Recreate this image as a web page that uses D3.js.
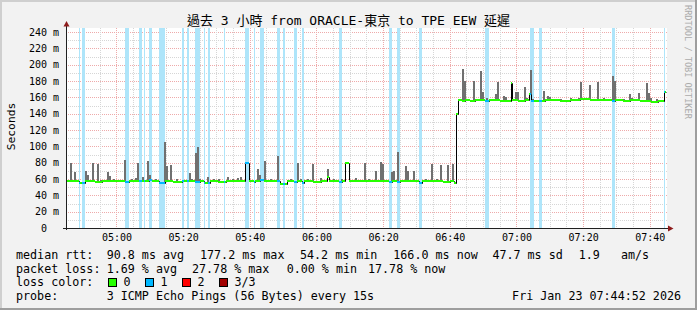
<!DOCTYPE html>
<html>
<head>
<meta charset="utf-8">
<script src="https://cdn.jsdelivr.net/npm/d3@7"></script>
<style>
  body { margin: 0; background: #f2f2f2; }
  svg { display: block; }
  text { font-family: "DejaVu Sans Mono", "Noto Sans CJK TC", monospace; white-space: pre; fill: #000; }
</style>
</head>
<body>
<svg id="chart"></svg>
<script>
// ---- data ----
const day = "2026-01-23";
const startTime = "04:44:52", endTime = "07:44:52";

const yTicks = [0, 20, 40, 60, 80, 100, 120, 140, 160, 180, 200, 220, 240];
const yTickLabels = ["0  ", "20 m", "40 m", "60 m", "80 m", "100 m", "120 m", "140 m", "160 m", "180 m", "200 m", "220 m", "240 m"];
const xTickLabels = ["05:00", "05:20", "05:40", "06:00", "06:20", "06:40", "07:00", "07:20", "07:40"];

// median rtt (ms), step changes
const medianTimes = [
  "04:44:52", "04:48:46", "04:50:25", "04:53:40", "04:55:40", "04:57:00", "05:02:34", "05:03:46",
  "05:06:46", "05:09:46", "05:10:40", "05:12:46", "05:14:34", "05:17:00", "05:19:45", "05:20:11",
  "05:23:34", "05:24:58", "05:26:16", "05:27:58", "05:30:30", "05:33:00", "05:38:34", "05:39:46",
  "05:41:16", "05:41:39", "05:43:04", "05:44:16", "05:49:04", "05:51:10", "05:53:16", "05:54:10",
  "05:55:40", "05:56:11", "05:59:00", "06:01:30", "06:03:01", "06:03:49", "06:06:46", "06:07:40",
  "06:08:40", "06:09:41", "06:13:00", "06:21:46", "06:22:40", "06:24:10", "06:25:04", "06:30:40",
  "06:31:34", "06:36:00", "06:38:00", "06:40:00", "06:41:10", "06:41:52", "06:42:28", "06:43:40",
  "06:44:30", "06:46:04", "06:47:30", "06:50:34", "06:51:46", "06:55:00", "06:58:16", "06:58:46",
  "07:00:34", "07:02:40", "07:03:46", "07:04:22", "07:05:34", "07:08:30", "07:13:00", "07:16:00",
  "07:19:00", "07:22:00", "07:28:40", "07:29:39", "07:32:00", "07:34:00", "07:37:00", "07:40:30",
  "07:42:30", "07:44:07"
];
const medianValues = [
  57, 55.5, 57, 56.5, 57.5, 57, 56, 57,
  57.5, 58.5, 57, 55.5, 57, 56.5, 58, 57,
  56, 57, 55.5, 57, 56.5, 57, 80, 57,
  56, 57, 58.5, 57, 54.2, 57, 56, 57,
  55.5, 57, 56.5, 57, 63, 57, 56, 57,
  80, 57.5, 57, 56.5, 57, 56, 57, 55,
  57, 57.5, 56.5, 57, 55.5, 140, 156.5, 155,
  156.5, 155.5, 156.5, 156, 156.5, 156, 177.2, 156.5,
  155, 156.5, 163.5, 156, 155, 156.5, 155.5, 156.5,
  157.5, 156.5, 156, 156.5, 155.5, 156.5, 155, 154.5,
  155.5, 166
];

// smoke: highest ping of a sample (ms)
const smokeTimes = [
  "04:46:04", "04:47:07", "04:50:34", "04:51:10", "04:52:40", "04:54:05", "04:55:04", "04:57:05",
  "04:57:41", "04:58:58", "05:02:16", "05:04:22", "05:05:34", "05:06:10", "05:07:45", "05:09:10",
  "05:09:46", "05:11:34", "05:14:16", "05:14:52", "05:16:04", "05:17:52", "05:21:46", "05:22:22",
  "05:23:34", "05:24:10", "05:24:46", "05:27:05", "05:28:58", "05:30:28", "05:33:10", "05:34:40",
  "05:36:10", "05:37:04", "05:42:10", "05:42:46", "05:44:16", "05:46:00", "05:48:10", "05:52:00",
  "05:54:10", "05:55:10", "05:57:10", "05:58:40", "06:01:04", "06:03:01", "06:05:04", "06:07:22",
  "06:11:34", "06:14:16", "06:15:28", "06:17:34", "06:19:04", "06:19:40", "06:22:16", "06:23:04",
  "06:24:05", "06:26:39", "06:27:15", "06:29:04", "06:32:34", "06:34:22", "06:36:00", "06:37:04",
  "06:39:05", "06:40:40", "06:43:43", "06:44:19", "06:45:00", "06:47:01", "06:49:08", "06:49:44",
  "06:51:00", "06:53:34", "06:54:10", "06:56:03", "06:56:39", "06:59:34", "07:00:10", "07:02:16",
  "07:02:52", "07:04:04", "07:04:40", "07:08:03", "07:09:05", "07:09:41", "07:13:00", "07:16:00",
  "07:18:30", "07:19:04", "07:19:40", "07:21:46", "07:22:40", "07:24:10", "07:26:00", "07:28:34",
  "07:29:10", "07:32:00", "07:33:44", "07:34:20", "07:36:20", "07:38:45", "07:39:21", "07:40:00",
  "07:42:00"
];
const smokeTops = [
  80, 69, 70, 65.5, 79, 78, 59, 68,
  63.5, 60, 83.5, 60, 61.5, 79.5, 63, 82,
  65, 60, 105.5, 75.5, 77.5, 59.5, 67, 59.5,
  92, 99.5, 59.5, 63, 60, 59.5, 62, 60,
  61.5, 62.5, 72.5, 65, 82, 59.5, 88, 60,
  79, 59.5, 60, 78, 61, 72.5, 60, 60,
  61, 80, 60, 70, 80.5, 78.5, 69, 69.5,
  93.5, 76, 70, 69.5, 60, 78.5, 60, 77,
  77.5, 78.5, 194.5, 180.5, 158, 180.5, 192.5, 166,
  159, 163.5, 179, 161.5, 161, 166.5, 166.5, 172.5,
  159, 194, 158, 168, 162, 160.5, 158.5, 159,
  159, 179, 159, 175.5, 158.5, 179, 159, 186.5,
  180, 158.5, 164.5, 159, 165, 177.5, 165, 159,
  158.5
];
const smokeSeconds = 36;

// periods with 1 of 3 pings lost
const lossStart = [
  "04:48:46", "04:49:40", "05:02:34", "05:06:46", "05:08:11", "05:09:46", "05:12:46", "05:19:45",
  "05:21:05", "05:23:34", "05:26:16", "05:27:33", "05:32:16", "05:38:34", "05:41:16", "05:43:04",
  "05:48:10", "05:50:03", "05:53:16", "05:55:40", "06:06:46", "06:21:46", "06:24:10", "06:30:40",
  "06:50:34", "07:04:04", "07:06:46", "07:28:40", "07:44:16"
];
const lossEnd = [
  "04:49:04", "04:50:25", "05:03:46", "05:07:40", "05:08:34", "05:10:40", "05:14:34", "05:20:11",
  "05:21:41", "05:24:58", "05:26:39", "05:27:58", "05:32:39", "05:39:46", "05:41:39", "05:44:16",
  "05:49:04", "05:50:29", "05:54:10", "05:56:11", "06:07:40", "06:22:40", "06:25:04", "06:31:34",
  "06:51:46", "07:05:16", "07:07:40", "07:29:39", "07:44:39"
];

const lossColors = ["#26ff00", "#00b8ff", "#ff0000", "#a10000"];
const lossLabels = ["0", "1", "2", "3/3"];

const rttLabels = ["90.8 ms avg", "177.2 ms max", "54.2 ms min", "166.0 ms now", "47.7 ms sd", "1.9", "am/s"];
const lossStats = ["1.69 % avg", "27.78 % max", "0.00 % min", "17.78 % now"];

// ---- setup ----
const width = 697, height = 310;
const parseTime = s => d3.timeParse("%Y-%m-%d %H:%M:%S")(day + " " + (s.length === 5 ? s + ":00" : s));
const t0 = parseTime(startTime), t1 = parseTime(endTime);

const svg = d3.select("#chart").attr("width", width).attr("height", height);

const x = d3.scaleTime().domain([t0, t1]).range([66, 666]);
const y = d3.scaleLinear().domain([0, 240]).range([228, 32]);
const px = v => Math.round(v) + 0.5;
const canvasTop = Math.round(y(245));

// background + shading
svg.append("rect").attr("width", width).attr("height", height).attr("fill", "#f2f2f2");
svg.append("path").attr("d", `M0,0H${width}V2H2V${height}H0Z`).attr("fill", "#cfcfcf");
svg.append("path").attr("d", `M${width},${height}H0V${height - 2}H${width - 2}V0H${width}Z`).attr("fill", "#9e9e9e");

// canvas
svg.append("rect").attr("x", 66).attr("y", canvasTop).attr("width", 601)
  .attr("height", 228 - canvasTop).attr("fill", "#fff");

// grid
const grid = svg.append("g").attr("stroke-dasharray", "1,1").attr("stroke-width", 1);
const minorH = [10, 30, 50, 70, 90, 110, 130, 150, 170, 190, 210, 230];
grid.selectAll(".hmin").data(minorH).join("line")
  .attr("x1", 66).attr("x2", 667).attr("y1", d => px(y(d))).attr("y2", d => px(y(d)))
  .attr("stroke", "#d6d6d6");
grid.selectAll(".hmaj").data(yTicks.slice(1)).join("line")
  .attr("x1", 66).attr("x2", 667).attr("y1", d => px(y(d))).attr("y2", d => px(y(d)))
  .attr("stroke", "#eeaaaa");
const majorV = xTickLabels.map(parseTime);
const minorV = x.ticks(d3.timeMinute.every(5)).filter(d => d.getMinutes() % 20 !== 0);
grid.selectAll(".vmin").data(minorV).join("line")
  .attr("x1", d => px(x(d))).attr("x2", d => px(x(d))).attr("y1", canvasTop).attr("y2", 228)
  .attr("stroke", "#d6d6d6");
grid.selectAll(".vmaj").data(majorV).join("line")
  .attr("x1", d => px(x(d))).attr("x2", d => px(x(d))).attr("y1", canvasTop).attr("y2", 228)
  .attr("stroke", "#eeaaaa");

// loss bands
const bands = lossStart.map((s, i) => ({s: parseTime(s), e: parseTime(lossEnd[i])}));
svg.append("g").selectAll("rect").data(bands).join("rect")
  .attr("x", d => Math.round(x(d.s)))
  .attr("width", d => Math.max(1, Math.round(x(d.e)) - Math.round(x(d.s))))
  .attr("y", canvasTop).attr("height", 228 - canvasTop)
  .attr("fill", "#aee5fa");

// median lookup
const med = medianTimes.map((t, i) => ({t: parseTime(t), v: medianValues[i]}));
const medT = med.map(d => d.t);
const medianAt = t => med[Math.max(0, d3.bisectRight(medT, t) - 1)].v;

// smoke
const smoke = smokeTimes.map((t, i) => ({t: parseTime(t), top: smokeTops[i]}));
svg.append("g").selectAll("rect").data(smoke).join("rect")
  .attr("x", d => Math.round(x(d.t)))
  .attr("width", d => Math.round(x(new Date(+d.t + smokeSeconds * 1000))) - Math.round(x(d.t)))
  .attr("y", d => Math.round(y(d.top)))
  .attr("height", d => Math.max(0, Math.round(y(medianAt(d.t))) - Math.round(y(d.top))))
  .attr("fill", "#707070");

// median: thin black step line, then coloured horizontal pieces
const stepPts = med.concat([{t: t1, v: med[med.length - 1].v}]);
svg.append("path").datum(stepPts)
  .attr("d", d3.line().x(d => px(x(d.t))).y(d => px(y(d.v))).curve(d3.curveStepAfter))
  .attr("fill", "none").attr("stroke", "#000").attr("stroke-width", 1);

const cuts = Array.from(new Set(
  med.map(d => +d.t).concat(bands.map(b => +b.s), bands.map(b => +b.e), [+t1])
)).filter(v => v <= +t1).sort((a, b) => a - b);
const pieces = [];
for (let i = 0; i < cuts.length - 1; i++) {
  const a = new Date(cuts[i]), b = new Date(cuts[i + 1]);
  const lost = bands.some(bd => a >= bd.s && a < bd.e);
  pieces.push({a, b, v: medianAt(a), c: lost ? lossColors[1] : lossColors[0]});
}
svg.append("g").selectAll("line").data(pieces).join("line")
  .attr("x1", d => Math.round(x(d.a))).attr("x2", d => Math.max(Math.round(x(d.b)), Math.round(x(d.a)) + 1))
  .attr("y1", d => Math.round(y(d.v))).attr("y2", d => Math.round(y(d.v)))
  .attr("stroke", d => d.c).attr("stroke-width", 2);

// axes labels
const xAxis = d3.axisBottom(x).tickValues(majorV).tickFormat(d3.timeFormat("%H:%M")).tickSize(0).tickPadding(6);
svg.append("g").attr("transform", "translate(0,228)").call(xAxis)
  .call(g => g.select(".domain").remove())
  .selectAll("text").style("font-size", "10px").attr("font-family", null);

const yAxis = d3.axisLeft(y).tickValues(yTicks).tickFormat((d, i) => yTickLabels[i]).tickSize(0).tickPadding(7);
svg.append("g").attr("transform", "translate(66,0)").call(yAxis)
  .call(g => g.select(".domain").remove())
  .selectAll("text").style("font-size", "10px").attr("font-family", null);

// axis lines and arrows
const axisCol = "#202020";
svg.append("line").attr("x1", 66.5).attr("x2", 66.5).attr("y1", 25).attr("y2", 230).attr("stroke", axisCol);
svg.append("line").attr("x1", 63).attr("x2", 669).attr("y1", 228.5).attr("y2", 228.5).attr("stroke", axisCol);
svg.append("path").attr("d", "M63.5,26.5L66.5,21L69.5,26.5Z").attr("fill", "#8e1c1c");
svg.append("path").attr("d", "M668,225.5L673.5,228.5L668,231.5Z").attr("fill", "#8e1c1c");

// title & axis title
svg.append("text").attr("x", 348.5).attr("y", 25).attr("text-anchor", "middle")
  .style("font-size", "13px").text("過去 3 小時 from ORACLE-東京 to TPE EEW 延遲");
svg.append("text").attr("transform", "translate(15,126.5) rotate(-90)").attr("text-anchor", "middle")
  .style("font-size", "11.3px").text("Seconds");
svg.append("text").attr("transform", "translate(685,5) rotate(90)")
  .style("font-size", "8.6px").style("fill", "#ababab").text("RRDTOOL / TOBI OETIKER");

// legend
const legend = svg.append("g").style("font-size", "11.7px");
const rows = [259, 272.7, 286.4, 300];
legend.append("text").attr("x", 16).attr("y", rows[0]).text("median rtt:");
const rttX = [106.7, 200, 300, 393.3, 492.4, 578.7, 620.9];
legend.selectAll(".rtt").data(rttLabels).join("text").attr("class", "rtt")
  .attr("x", (d, i) => rttX[i]).attr("y", rows[0]).text(d => d);

legend.append("text").attr("x", 16).attr("y", rows[1]).text("packet loss:");
const lossX = [106.7, 192, 286.7, 368];
legend.selectAll(".pl").data(lossStats).join("text").attr("class", "pl")
  .attr("x", (d, i) => lossX[i]).attr("y", rows[1]).text(d => d);

legend.append("text").attr("x", 16).attr("y", rows[2]).text("loss color:");
const boxX = [108.5, 145.5, 182.5, 219.5];
legend.selectAll(".lb").data(lossColors).join("rect").attr("class", "lb")
  .attr("x", (d, i) => boxX[i]).attr("y", 278.5).attr("width", 8).attr("height", 8)
  .attr("fill", d => d).attr("stroke", "#000");
legend.selectAll(".ll").data(lossLabels).join("text").attr("class", "ll")
  .attr("x", (d, i) => boxX[i] + 15).attr("y", rows[2]).text(d => d);

legend.append("text").attr("x", 16).attr("y", rows[3]).text("probe:");
legend.append("text").attr("x", 106.7).attr("y", rows[3]).text("3 ICMP Echo Pings (56 Bytes) every 15s");
legend.append("text").attr("x", 681).attr("y", rows[3]).attr("text-anchor", "end").text("Fri Jan 23 07:44:52 2026");
</script>
</body>
</html>
